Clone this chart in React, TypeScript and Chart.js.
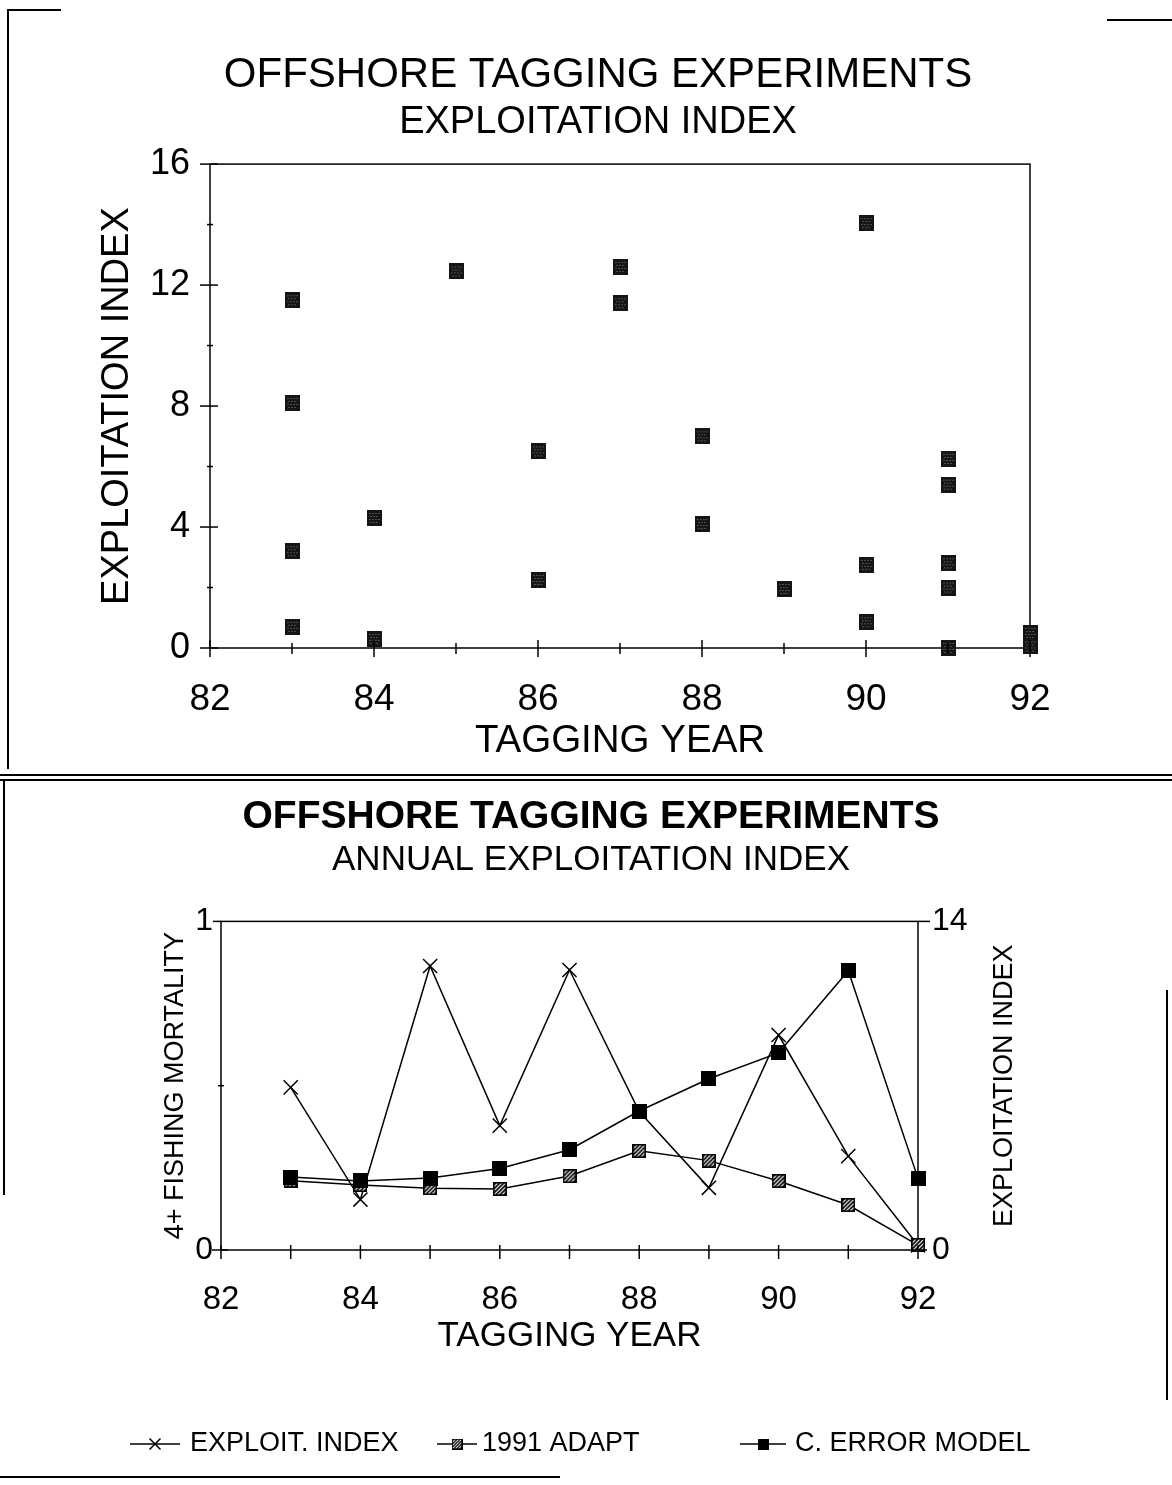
import { useEffect, useRef } from 'react';
import { Chart, registerables } from 'chart.js';

Chart.register(...registerables);

const FONT = '"Liberation Sans", Arial, Helvetica, sans-serif';

// ---------- Top chart data ----------
const topTitle = 'OFFSHORE TAGGING EXPERIMENTS';
const topSubtitle = 'EXPLOITATION INDEX';
const topYTitle = 'EXPLOITATION INDEX';
const xAxisTitle = 'TAGGING YEAR';
const scatterYears = [83, 83, 83, 83, 84, 84, 85, 86, 86, 87, 87, 88, 88, 89, 90, 90, 90, 91, 91, 91, 91, 91, 92, 92];
const scatterIndex = [11.5, 8.1, 3.2, 0.7, 4.3, 0.3, 12.45, 6.5, 2.25, 12.6, 11.4, 7.0, 4.1, 1.95, 14.05, 2.75, 0.85, 6.25, 5.4, 2.8, 2.0, 0.0, 0.5, 0.05];
const yearTicks = [82, 83, 84, 85, 86, 87, 88, 89, 90, 91, 92];
const topYMajor = [0, 4, 8, 12, 16];
const topYMinor = [2, 6, 10, 14];

// ---------- Bottom chart data ----------
const bottomTitle = 'OFFSHORE TAGGING EXPERIMENTS';
const bottomSubtitle = 'ANNUAL EXPLOITATION INDEX';
const leftAxisTitle = '4+ FISHING MORTALITY';
const rightAxisTitle = 'EXPLOITATION INDEX';
const annualYears = [83, 84, 85, 86, 87, 88, 89, 90, 91, 92];
const exploitIndex = [6.93, 2.15, 12.1, 5.3, 11.93, 5.9, 2.65, 9.16, 4.0, 0.2];
const adapt1991 = [0.211, 0.198, 0.188, 0.186, 0.225, 0.302, 0.272, 0.21, 0.137, 0.015];
const cErrorModel = [0.222, 0.21, 0.219, 0.248, 0.305, 0.423, 0.521, 0.6, 0.85, 0.218];
const seriesLabels = ['EXPLOIT. INDEX', '1991 ADAPT', 'C. ERROR MODEL'];

function makeDotSquare(w: number, h: number) {
  const c = document.createElement('canvas');
  c.width = w;
  c.height = h;
  const ctx = c.getContext('2d')!;
  ctx.fillStyle = '#151515';
  ctx.fillRect(0, 0, w, h);
  ctx.fillStyle = '#8a8a8a';
  let row = 0;
  for (let y = 3; y < h - 2; y += 3) {
    for (let x = 3 + (row % 2); x < w - 2; x += 3) ctx.fillRect(x, y, 1, 1);
    row++;
  }
  return c;
}

function makeHatch(size: number) {
  const c = document.createElement('canvas');
  c.width = size;
  c.height = size;
  const ctx = c.getContext('2d')!;
  ctx.fillStyle = '#fff';
  ctx.fillRect(0, 0, size, size);
  ctx.save();
  ctx.beginPath();
  ctx.rect(1, 1, size - 2, size - 2);
  ctx.clip();
  ctx.strokeStyle = '#000';
  ctx.lineWidth = 1.6;
  for (let k = -size; k < size * 2; k += 4) {
    ctx.beginPath();
    ctx.moveTo(k, size);
    ctx.lineTo(k + size, 0);
    ctx.stroke();
  }
  ctx.restore();
  ctx.strokeStyle = '#000';
  ctx.lineWidth = 1.6;
  ctx.strokeRect(0.8, 0.8, size - 1.6, size - 1.6);
  return c;
}

function makeSolid(size: number) {
  const c = document.createElement('canvas');
  c.width = size;
  c.height = size;
  const ctx = c.getContext('2d')!;
  ctx.fillStyle = '#000';
  ctx.fillRect(0, 0, size, size);
  return c;
}

type TickSpec = { axis: string; value: number; inner: number; outer: number };

const crossTicksPlugin = {
  id: 'crossTicks',
  afterDraw(chart: any, _args: any, opts: any) {
    const { ctx } = chart;
    ctx.save();
    ctx.strokeStyle = '#000';
    ctx.lineWidth = 1.5;
    (opts.ticks as TickSpec[]).forEach((t) => {
      const scale = chart.scales[t.axis];
      const p = scale.getPixelForValue(t.value);
      ctx.beginPath();
      if (scale.isHorizontal()) {
        const y0 = scale.top;
        ctx.moveTo(p, y0 - t.inner);
        ctx.lineTo(p, y0 + t.outer);
      } else if (scale.position === 'left') {
        const x0 = chart.chartArea.left;
        ctx.moveTo(x0 - t.outer, p);
        ctx.lineTo(x0 + t.inner, p);
      } else {
        const x0 = chart.chartArea.right;
        ctx.moveTo(x0 - t.inner, p);
        ctx.lineTo(x0 + t.outer, p);
      }
      ctx.stroke();
    });
    ctx.restore();
  },
};

const framePlugin = {
  id: 'frame',
  beforeDatasetsDraw(chart: any) {
    const { ctx, chartArea: a } = chart;
    ctx.save();
    ctx.strokeStyle = '#000';
    ctx.lineWidth = 1.5;
    ctx.strokeRect(a.left, a.top, a.right - a.left, a.bottom - a.top);
    ctx.restore();
  },
};

const sideTitlePlugin = {
  id: 'sideTitle',
  afterDraw(chart: any, _args: any, opts: any) {
    const { ctx, chartArea: a } = chart;
    ctx.save();
    ctx.translate(a.right + opts.offset, (a.top + a.bottom) / 2);
    ctx.rotate(-Math.PI / 2);
    ctx.font = `${opts.size}px ${FONT}`;
    ctx.textAlign = 'center';
    ctx.textBaseline = 'middle';
    ctx.fillStyle = '#000';
    ctx.fillText(opts.text, 0, 0);
    ctx.restore();
  },
};

const placedLegendPlugin = {
  id: 'placedLegend',
  afterDraw(chart: any, _args: any, opts: any) {
    const { ctx } = chart;
    const y = opts.y;
    chart.data.datasets.forEach((ds: any, i: number) => {
      const x0 = opts.x[i];
      const seg = opts.seg[i];
      ctx.save();
      ctx.strokeStyle = '#000';
      ctx.lineWidth = 1.5;
      ctx.beginPath();
      ctx.moveTo(x0, y);
      ctx.lineTo(x0 + seg, y);
      ctx.stroke();
      const cx = x0 + seg / 2;
      const m = opts.marker[i];
      const ps = ds.pointStyle;
      if (ps === 'crossRot') {
        ctx.beginPath();
        ctx.moveTo(cx - m / 2, y - m / 2);
        ctx.lineTo(cx + m / 2, y + m / 2);
        ctx.moveTo(cx - m / 2, y + m / 2);
        ctx.lineTo(cx + m / 2, y - m / 2);
        ctx.stroke();
      } else if (ps && typeof ps === 'object') {
        ctx.drawImage(ps, cx - m / 2, y - m / 2, m, m);
      }
      ctx.fillStyle = '#000';
      ctx.font = `${opts.size}px ${FONT}`;
      ctx.textBaseline = 'middle';
      ctx.textAlign = 'left';
      ctx.fillText(ds.label, opts.textX[i], y);
      ctx.restore();
    });
  },
};

const black = '#000';

export default function App() {
  const topRef = useRef<HTMLCanvasElement>(null);
  const botRef = useRef<HTMLCanvasElement>(null);

  useEffect(() => {
    const dotSquare = makeDotSquare(15, 16);
    const hatch = makeHatch(14);
    const solid = makeSolid(15);

    const topTicks: TickSpec[] = [
      ...yearTicks.map((v) => ({ axis: 'x', value: v, inner: v % 2 === 0 ? 8 : 5, outer: v % 2 === 0 ? 9 : 6 })),
      ...topYMajor.map((v) => ({ axis: 'y', value: v, inner: 8, outer: 10 })),
      ...topYMinor.map((v) => ({ axis: 'y', value: v, inner: 3, outer: 3 })),
    ];

    const top = new Chart(topRef.current!, {
      type: 'scatter',
      data: {
        datasets: [
          {
            label: topYTitle,
            data: scatterYears.map((x, i) => ({ x, y: scatterIndex[i] })),
            pointStyle: dotSquare as any,
            pointRadius: 7,
            pointHoverRadius: 7,
            showLine: false,
            clip: false,
          },
        ],
      },
      options: {
        animation: false,
        responsive: false,
        events: [],
        layout: { padding: { left: 24, right: 0, top: 0, bottom: 0 } },
        plugins: {
          legend: { display: false },
          tooltip: { enabled: false },
          title: {
            display: true,
            text: topTitle,
            color: black,
            font: { family: FONT, size: 42, weight: 'normal', lineHeight: 1.15 },
            padding: { top: 51, bottom: 0 },
          },
          subtitle: {
            display: true,
            text: topSubtitle,
            color: black,
            font: { family: FONT, size: 38, weight: 'normal', lineHeight: 1.1 },
            padding: { top: 2, bottom: 21 },
          },
          crossTicks: { ticks: topTicks },
        } as any,
        scales: {
          x: {
            type: 'linear',
            min: 82,
            max: 92,
            ticks: { stepSize: 2, color: black, font: { family: FONT, size: 37 }, padding: 30, maxRotation: 0 },
            grid: { display: false, drawTicks: false },
            border: { display: false },
            title: { display: true, text: xAxisTitle, color: black, font: { family: FONT, size: 38.5 }, padding: { top: 0, bottom: 6 } },
            afterFit: (s: any) => {
              s.height = 122;
            },
          },
          y: {
            min: 0,
            max: 16,
            ticks: { stepSize: 4, color: black, font: { family: FONT, size: 36 }, padding: 20 },
            grid: { display: false, drawTicks: false },
            border: { display: false },
            title: { display: true, text: topYTitle, color: black, font: { family: FONT, size: 38 }, padding: { top: 71, bottom: 0 } },
            afterFit: (s: any) => {
              s.width = 186;
            },
          },
          y2: {
            position: 'right',
            min: 0,
            max: 16,
            ticks: { display: false },
            grid: { display: false, drawTicks: false },
            border: { display: false },
            afterFit: (s: any) => {
              s.width = 142;
            },
          },
        },
      } as any,
      plugins: [framePlugin, crossTicksPlugin],
    });

    const botTicks: TickSpec[] = [
      ...yearTicks.map((v) => ({ axis: 'x', value: v, inner: 5, outer: 9 })),
      { axis: 'y', value: 0, inner: 7, outer: 9 },
      { axis: 'y', value: 1, inner: 0, outer: 8 },
      { axis: 'y', value: 0.5, inner: 3, outer: 3 },
      { axis: 'y2', value: 0, inner: 7, outer: 9 },
      { axis: 'y2', value: 14, inner: 0, outer: 12 },
    ];

    const lineCommon = {
      borderColor: black,
      borderWidth: 1.5,
      backgroundColor: black,
      pointBorderColor: black,
      tension: 0,
      fill: false,
      clip: false,
    };

    const bottom = new Chart(botRef.current!, {
      type: 'line',
      data: {
        datasets: [
          {
            ...lineCommon,
            label: seriesLabels[0],
            data: annualYears.map((x, i) => ({ x, y: exploitIndex[i] })),
            yAxisID: 'y2',
            pointStyle: 'crossRot',
            pointRadius: 10,
            pointHoverRadius: 10,
            pointBorderWidth: 1.5,
            order: 3,
          },
          {
            ...lineCommon,
            label: seriesLabels[1],
            data: annualYears.map((x, i) => ({ x, y: adapt1991[i] })),
            yAxisID: 'y',
            pointStyle: hatch as any,
            pointRadius: 7,
            pointHoverRadius: 7,
            order: 2,
          },
          {
            ...lineCommon,
            label: seriesLabels[2],
            data: annualYears.map((x, i) => ({ x, y: cErrorModel[i] })),
            yAxisID: 'y',
            pointStyle: solid as any,
            pointRadius: 8,
            pointHoverRadius: 8,
            order: 1,
          },
        ],
      },
      options: {
        animation: false,
        responsive: false,
        events: [],
        layout: { padding: { left: 20, right: 10, top: 0, bottom: 113 } },
        plugins: {
          legend: { display: false },
          tooltip: { enabled: false },
          title: {
            display: true,
            text: bottomTitle,
            color: black,
            font: { family: FONT, size: 39, weight: 'bold', lineHeight: 1.1 },
            padding: { top: 16, bottom: 0 },
          },
          subtitle: {
            display: true,
            text: bottomSubtitle,
            color: black,
            font: { family: FONT, size: 35, weight: 'normal', lineHeight: 1.1 },
            padding: { top: 2, bottom: 42 },
          },
          crossTicks: { ticks: botTicks },
          sideTitle: { text: rightAxisTitle, size: 27, offset: 87 },
          placedLegend: {
            y: 664,
            x: [130, 437, 740],
            seg: [50, 40, 46],
            marker: [11, 11, 11],
            textX: [190, 482, 795],
            size: 27,
          },
        } as any,
        scales: {
          x: {
            type: 'linear',
            min: 82,
            max: 92,
            ticks: { stepSize: 2, color: black, font: { family: FONT, size: 33 }, padding: 30, maxRotation: 0 },
            grid: { display: false, drawTicks: false },
            border: { display: false },
            title: { display: true, text: xAxisTitle, color: black, font: { family: FONT, size: 35 }, padding: { top: 0, bottom: 0 } },
            afterFit: (s: any) => {
              s.height = 107;
            },
          },
          y: {
            position: 'left',
            min: 0,
            max: 1,
            ticks: { stepSize: 1, color: black, font: { family: FONT, size: 32 }, padding: 8 },
            grid: { display: false, drawTicks: false },
            border: { display: false },
            title: { display: true, text: leftAxisTitle, color: black, font: { family: FONT, size: 27 }, padding: { top: 139, bottom: 0 } },
            afterFit: (s: any) => {
              s.width = 201;
            },
          },
          y2: {
            position: 'right',
            min: 0,
            max: 14,
            ticks: { stepSize: 14, color: black, font: { family: FONT, size: 32 }, padding: 14 },
            grid: { display: false, drawTicks: false },
            border: { display: false },
            afterFit: (s: any) => {
              s.width = 244;
            },
          },
        },
      } as any,
      plugins: [framePlugin, crossTicksPlugin, sideTitlePlugin, placedLegendPlugin],
    });

    return () => {
      top.destroy();
      bottom.destroy();
    };
  }, []);

  const line = (l: number, t: number, w: number, h: number) => (
    <div style={{ position: 'absolute', left: l, top: t, width: w, height: h, background: '#000' }} />
  );

  return (
    <div style={{ position: 'absolute', left: 0, top: 0, width: 1172, height: 1485, background: '#fff', overflow: 'hidden' }}>
      <canvas ref={topRef} width={1172} height={770} style={{ position: 'absolute', left: 0, top: 0, display: 'block' }} />
      <canvas ref={botRef} width={1172} height={690} style={{ position: 'absolute', left: 0, top: 780, display: 'block' }} />
      {line(7, 9, 54, 2)}
      {line(7, 9, 2, 760)}
      {line(1107, 19, 65, 2)}
      {line(0, 774, 1172, 2)}
      {line(0, 779, 1172, 2)}
      {line(3, 780, 2, 415)}
      {line(1166, 990, 2, 410)}
      {line(0, 1476, 560, 2)}
    </div>
  );
}
